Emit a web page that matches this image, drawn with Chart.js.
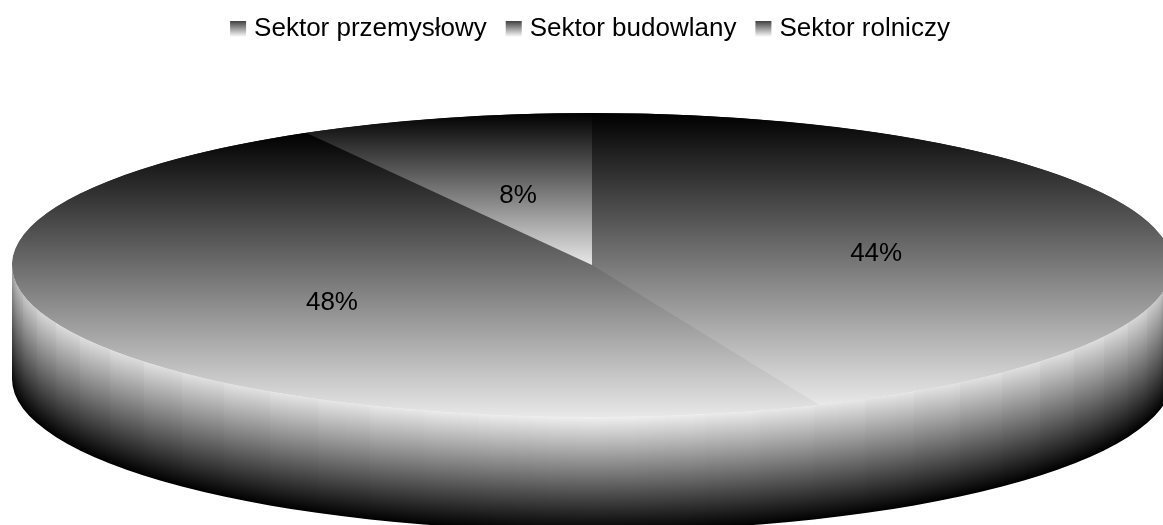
<!DOCTYPE html>
<html lang="pl">
<head>
<meta charset="utf-8">
<title>Sektory</title>
<script src="https://cdn.jsdelivr.net/npm/chart.js@4/dist/chart.umd.js"></script>
<style>
  html, body { margin: 0; padding: 0; background: #fff; overflow: hidden; }
  canvas { display: block; }
</style>
</head>
<body>
<canvas id="pie" width="1163" height="525"></canvas>
<script>
// Data
const categories = ['Sektor przemysłowy', 'Sektor budowlany', 'Sektor rolniczy'];
const sliceLabels = ['44%', '48%', '8%'];
const values = [43.6, 48.2, 8.2];

// ── Look of the tilted disc ───────────────────────────────────────────────────
const RADIUS = 580;
const TILT = 152 / 580;
const DEPTH = 114;
const FONT = 'Liberation Sans, Arial, sans-serif';
const STRIP_DEG = 5.625;
// vertical extent of every slice, in radii from the centre (screen-down positive)
const sliceExtent = [[-1, 0.92], [-0.87, 1], [-1, 0]];

function topGradient(chart, cy, a, b) {
  const g = chart.ctx.createLinearGradient(0, cy + a * RADIUS, 0, cy + b * RADIUS);
  g.addColorStop(0, '#000000');
  g.addColorStop(1, '#e8e8e8');
  return g;
}

function sliceGradient(ctx) {
  const area = ctx.chart.chartArea;
  if (!area || ctx.dataIndex === undefined) return '#888';
  const [a, b] = sliceExtent[ctx.dataIndex];
  return topGradient(ctx.chart, (area.top + area.bottom) / 2, a, b);
}

// The rim under the disc: one pixel columns, with a faint step every few degrees
function drawRim(c, cx, cy, rx, ry) {
  c.save();
  c.beginPath();
  c.ellipse(cx, cy, rx, ry, 0, 0, Math.PI);
  c.lineTo(cx - rx, cy + DEPTH);
  c.ellipse(cx, cy + DEPTH, rx, ry, 0, Math.PI, 0, true);
  c.closePath();
  c.clip();
  for (let x = Math.floor(cx - rx); x < 1163; x++) {
    const u = Math.max(-1, Math.min(1, (x + 0.5 - cx) / rx));
    const abs = Math.abs(u);
    const edge = cy + ry * Math.sqrt(1 - u * u);
    const deg = Math.acos(abs) * 180 / Math.PI;
    const stepped = cy + ry * Math.sin(Math.floor(deg / STRIP_DEG) * STRIP_DEG * Math.PI / 180);
    const top = edge + 0.25 * (stepped - edge);
    const light = Math.round(240 - 20 * abs - 52 * Math.pow(abs, 40));
    const g = c.createLinearGradient(0, top, 0, edge + DEPTH);
    g.addColorStop(0, `rgb(${light},${light},${light})`);
    g.addColorStop(1, '#000000');
    c.fillStyle = g;
    c.fillRect(x, top - 2, 1, edge + DEPTH - top + 4);
  }
  c.restore();
}

const discPlugin = {
  id: 'disc',
  beforeDatasetsDraw(chart) {
    const arc = chart.getDatasetMeta(0).data[0];
    const c = chart.ctx;
    const ry = arc.outerRadius * TILT;
    drawRim(c, arc.x, arc.y, arc.outerRadius, ry);
    // underlay so no white shows in the seams between slices
    c.save();
    c.translate(arc.x, arc.y);
    c.scale(1, TILT);
    c.translate(-arc.x, -arc.y);
    c.beginPath();
    c.arc(arc.x, arc.y, arc.outerRadius - 0.5, 0, Math.PI * 2);
    c.fillStyle = topGradient(chart, arc.y, -1, 1);
    c.fill();
    c.restore();
  },
  // squash the round pie into the ellipse
  beforeDatasetDraw(chart) {
    const arc = chart.getDatasetMeta(0).data[0];
    const c = chart.ctx;
    c.save();
    c.translate(arc.x, arc.y);
    c.scale(1, TILT);
    c.translate(-arc.x, -arc.y);
  },
  afterDatasetDraw(chart) {
    chart.ctx.restore();
  },
  afterDraw(chart) {
    const c = chart.ctx;
    const meta = chart.getDatasetMeta(0);
    // percent labels, at the middle of each squashed slice
    c.save();
    c.fillStyle = '#000';
    c.font = '26px ' + FONT;
    c.textAlign = 'center';
    c.textBaseline = 'middle';
    meta.data.forEach((arc, i) => {
      const p = arc.tooltipPosition();
      c.fillText(sliceLabels[i], p.x, arc.y + (p.y - arc.y) * TILT + 4.5);
    });
    // legend swatches sit closer to the text than Chart.js would put them
    chart.legend.legendHitBoxes.forEach((box) => {
      const y = box.top + box.height / 2 - 8;
      const g = c.createLinearGradient(0, y, 0, y + 16);
      g.addColorStop(0, '#404040');
      g.addColorStop(1, '#ffffff');
      c.fillStyle = g;
      c.fillRect(box.left - 4, y, 16, 16);
    });
    c.restore();
  }
};

new Chart(document.getElementById('pie'), {
  type: 'pie',
  data: {
    labels: categories,
    datasets: [{
      data: values,
      backgroundColor: sliceGradient,
      borderWidth: 0,
      clip: false
    }]
  },
  plugins: [discPlugin],
  options: {
    responsive: false,
    animation: false,
    events: [],
    radius: RADIUS,
    layout: { padding: { left: 21, top: -7, bottom: 47 } },
    plugins: {
      tooltip: { enabled: false },
      legend: {
        position: 'top',
        labels: {
          boxWidth: 7,
          boxHeight: 16,
          padding: 23,
          color: '#000',
          font: { family: FONT, size: 26 },
          generateLabels: () => categories.map((text, i) => ({
            text,
            index: i,
            fillStyle: 'rgba(0,0,0,0)',
            strokeStyle: 'rgba(0,0,0,0)',
            lineWidth: 0
          }))
        }
      }
    }
  }
});
</script>
</body>
</html>
